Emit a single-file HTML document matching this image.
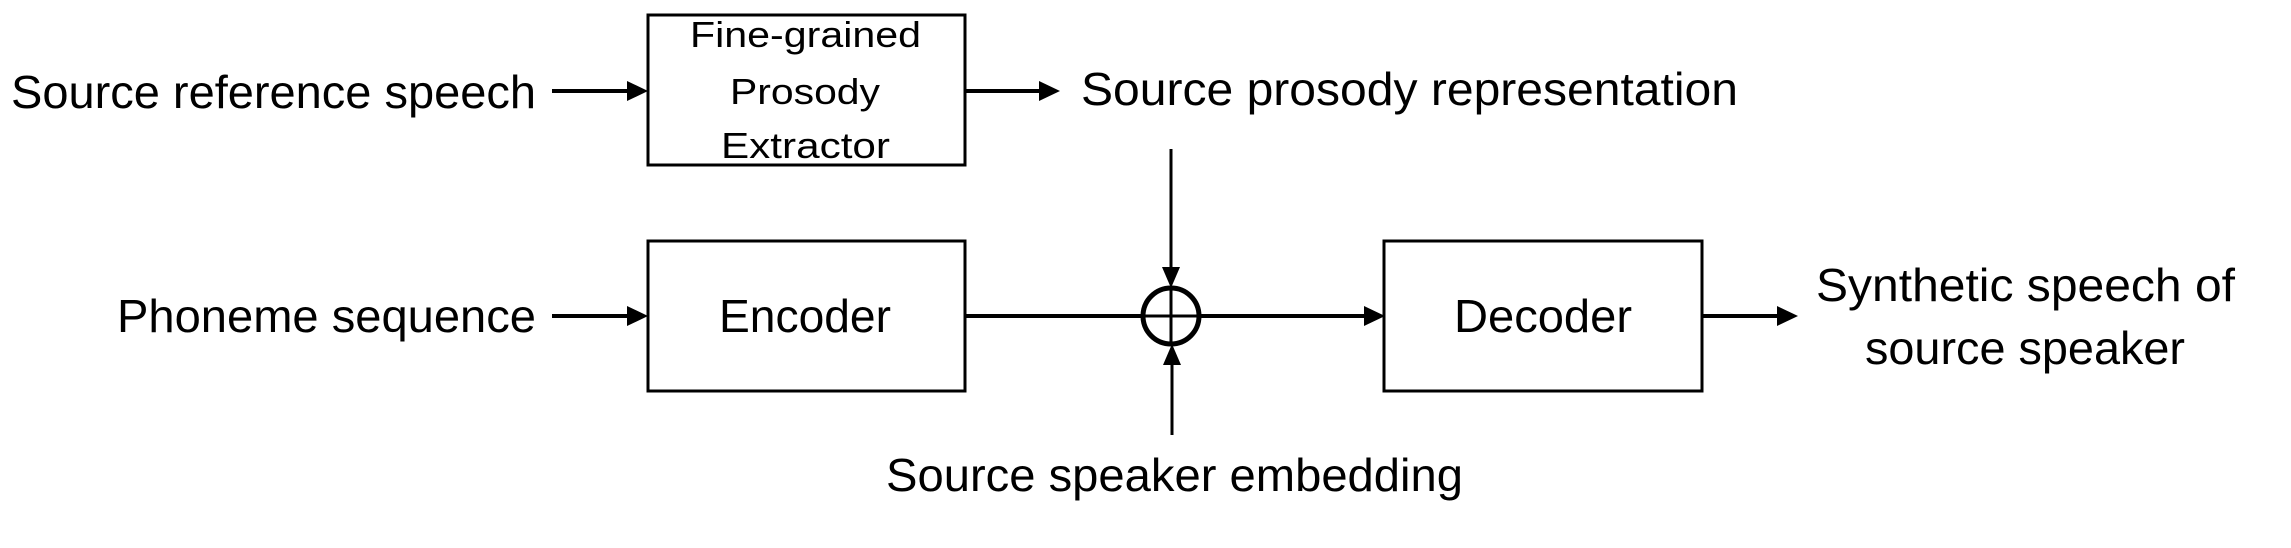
<!DOCTYPE html>
<html><head><meta charset="utf-8"><style>
html,body{margin:0;padding:0;background:#fff;}
svg{display:block;}
text{font-family:"Liberation Sans",sans-serif;fill:#000;}
</style></head><body>
<svg width="2291" height="548" viewBox="0 0 2291 548" xmlns="http://www.w3.org/2000/svg">
<defs>
<marker id="a" markerWidth="10" markerHeight="10" refX="9" refY="5" orient="auto" markerUnits="userSpaceOnUse" viewBox="0 0 10 10">
<path d="M0,0 L10,5 L0,10 z" fill="#000"/></marker>
</defs>
<g fill="none" stroke="#000" stroke-width="3">
<rect x="648" y="15" width="317" height="150"/>
<rect x="648" y="241" width="317" height="150"/>
<rect x="1384" y="241" width="318" height="150"/>
</g>
<g stroke="#000" stroke-width="4" fill="none">
<path d="M552,91 H637" />
<path d="M552,316 H637" />
<path d="M965,91 H1049" />
<path d="M965,316 H1141" />
<path d="M1201,316 H1374" />
<path d="M1702,316 H1787" />
<path d="M1171,149 V276" stroke-width="3"/>
<path d="M1172,435 V356" stroke-width="3"/>
<circle cx="1171" cy="316" r="28" stroke-width="5"/>
<path d="M1143,316 H1199 M1171,288 V344" stroke-width="3"/>
</g>
<g fill="#000">
<path d="M627,81 L648,91 L627,101 z"/>
<path d="M627,306 L648,316 L627,326 z"/>
<path d="M1039,81 L1060,91 L1039,101 z"/>
<path d="M1364,306 L1385,316 L1364,326 z"/>
<path d="M1777,306 L1798,316 L1777,326 z"/>
<path d="M1162,267 L1171,288 L1180,267 z"/>
<path d="M1163,365 L1172,344 L1181,365 z"/>
</g>
<g font-size="46">
<text x="11" y="108" textLength="525" lengthAdjust="spacingAndGlyphs">Source reference speech</text>
<text x="1081" y="105" textLength="657" lengthAdjust="spacingAndGlyphs">Source prosody representation</text>
<text x="117" y="332" textLength="419" lengthAdjust="spacingAndGlyphs">Phoneme sequence</text>
<text x="719" y="332" textLength="172" lengthAdjust="spacingAndGlyphs">Encoder</text>
<text x="1454" y="332" textLength="178" lengthAdjust="spacingAndGlyphs">Decoder</text>
<text x="1816" y="301" textLength="419" lengthAdjust="spacingAndGlyphs">Synthetic speech of</text>
<text x="1865" y="364" textLength="320" lengthAdjust="spacingAndGlyphs">source speaker</text>
<text x="886" y="491" textLength="577" lengthAdjust="spacingAndGlyphs">Source speaker embedding</text>
</g>
<g font-size="36">
<text x="690" y="47" textLength="231" lengthAdjust="spacingAndGlyphs">Fine-grained</text>
<text x="730" y="104" textLength="150" lengthAdjust="spacingAndGlyphs">Prosody</text>
<text x="721" y="158" textLength="169" lengthAdjust="spacingAndGlyphs">Extractor</text>
</g>
</svg>
</body></html>
